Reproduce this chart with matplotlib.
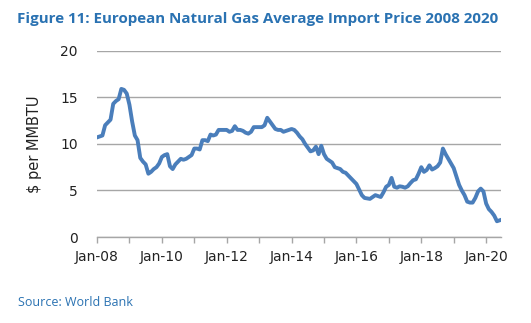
import numpy as np
from matplotlib import pyplot as plt

# Monthly average import price, Jan-08 .. Jun-20 ($ per MMBTU)
price_2008=[10.7,10.8,10.9,12.0,12.3,12.6,14.3,14.6,14.8,15.9,15.8,15.4]
price_2009=[14.2,12.4,10.9,10.4,8.5,8.1,7.8,6.8,7.0,7.3,7.5,7.9]
price_2010=[8.6,8.8,8.9,7.6,7.3,7.8,8.1,8.4,8.3,8.4,8.6,8.8]
price_2011=[9.5,9.5,9.4,10.4,10.4,10.3,11.0,10.9,11.0,11.5,11.5,11.5]
price_2012=[11.5,11.3,11.4,11.9,11.5,11.5,11.4,11.2,11.1,11.3,11.8,11.8]
price_2013=[11.8,11.8,12.0,12.8,12.4,12.0,11.6,11.5,11.5,11.3,11.4,11.5]
price_2014=[11.6,11.5,11.2,10.8,10.5,10.0,9.6,9.2,9.3,9.7,8.9,9.8]
price_2015=[8.9,8.4,8.2,8.0,7.5,7.4,7.3,7.0,6.9,6.6,6.3,6.0]
price_2016=[5.7,5.1,4.5,4.2,4.15,4.1,4.3,4.5,4.4,4.3,4.8,5.4]
price_2017=[5.6,6.35,5.4,5.3,5.45,5.4,5.3,5.45,5.8,6.1,6.2,6.8]
price_2018=[7.5,7.0,7.2,7.7,7.25,7.4,7.6,8.0,9.5,8.9,8.4,7.9]
price_2019=[7.4,6.5,5.6,5.0,4.5,3.8,3.7,3.7,4.2,4.9,5.2,4.9]
price_2020=[3.6,3.0,2.7,2.3,1.7,1.8]

price=np.array(price_2008+price_2009+price_2010+price_2011+price_2012+price_2013+
               price_2014+price_2015+price_2016+price_2017+price_2018+price_2019+
               price_2020)
months=np.arange(len(price))
years=list(range(2008,2021))
ticklabels=['Jan-%02d'%(y%100) if (y-2008)%2==0 else '' for y in years]

blue='#4A7EBB'
textblue='#2A72B2'
grey='#A6A6A6'

fig=plt.figure(figsize=(5.31,3.23),dpi=100)
ax=fig.add_axes([0.1827,0.266,0.7608,0.577])
ax.plot(months,price,color=blue,linewidth=2.8,solid_joinstyle='round')

ax.set_ylim(0,20)
ax.set_xlim(0,149.5)
ax.set_yticks([0,5,10,15,20])
ax.yaxis.grid(True,color=grey,linewidth=1.0)
ax.set_axisbelow(True)
ax.set_xticks([12*i for i in range(len(years))])
ax.set_xticklabels(ticklabels)
for s in ['top','right','left']:
    ax.spines[s].set_visible(False)
ax.spines['bottom'].set_color(grey)
ax.spines['bottom'].set_linewidth(1.0)
ax.tick_params(axis='y',length=0,pad=14,labelsize=10,labelcolor='#222222')
ax.tick_params(axis='x',length=4,color=grey,width=1.0,pad=5,labelsize=10,
               labelcolor='#222222')
ax.set_ylabel('$ per MMBTU',fontsize=10.5,color='#222222',labelpad=13)

fig.text(0.032,0.93,'Figure 11: European Natural Gas Average Import Price 2008 2020',
         fontsize=10.9,fontweight='bold',color=textblue,family='Open Sans')
fig.text(0.034,0.052,'Source: World Bank',fontsize=9,color=textblue,family='Open Sans')

plt.savefig('out.png',dpi=100)
